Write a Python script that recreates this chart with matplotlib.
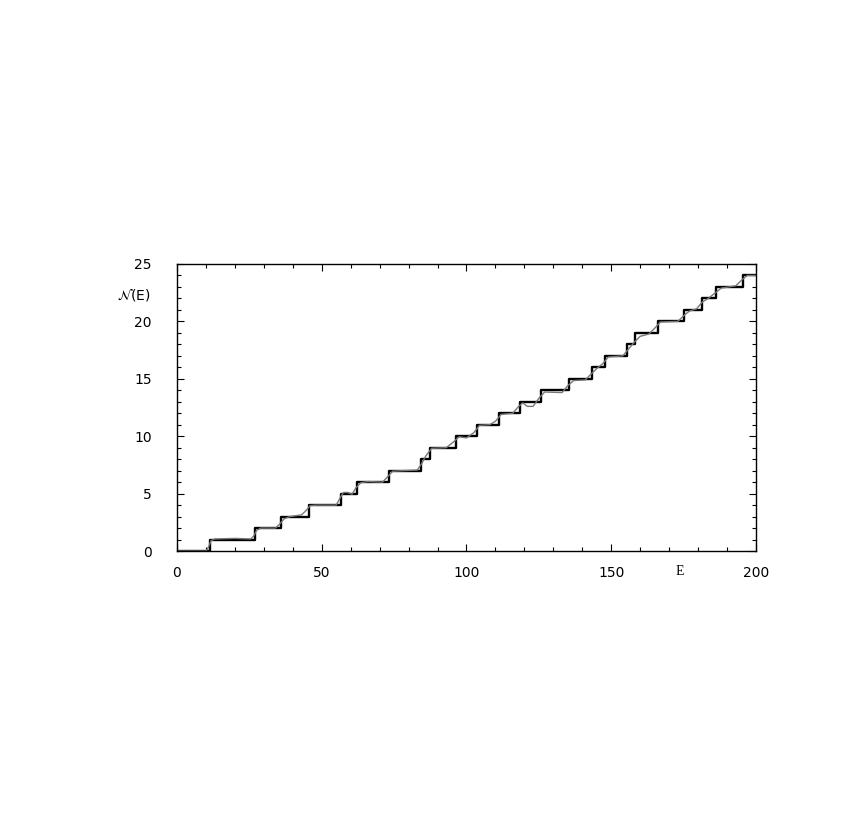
import matplotlib.pyplot as plt
from matplotlib.ticker import MultipleLocator

# eigenvalues E_n (positions of the steps)
levels_E = [11.4, 27.0, 36.0, 45.5, 56.7, 62.3, 73.2, 84.3, 87.4, 96.4,
            103.5, 111.1, 118.5, 125.7, 135.4, 143.4, 148.0, 155.6, 158.1,
            166.2, 175.1, 181.3, 186.1, 195.5]

# smooth (semiclassical) curve
smooth_E = [0, 10, 10.8, 11.8, 13, 20, 25.5, 26.5, 27.5, 29, 34, 35.3, 37, 39,
            43, 44.5, 46, 48, 55, 56.3, 57.5, 59, 60.5, 61.8, 63.5, 66, 71,
            72.5, 74.5, 78, 83, 84.5, 86, 88, 93, 95.5, 97.5, 100, 102.5,
            104.5, 108, 110, 112, 116, 118, 119.5, 121, 123, 125, 127, 133,
            135, 137, 141, 143, 145, 147, 149, 154, 156, 158, 160, 163, 165,
            167, 173, 175.5, 177, 179.5, 181.5, 183.5, 185.5, 188, 193,
            195.5, 197, 200]
smooth_N = [0, 0, 0.3, 0.9, 1.05, 1.1, 1.05, 1.3, 1.8, 2.0, 2.0, 2.3, 2.8, 3.0,
            3.15, 3.5, 3.95, 4.0, 4.0, 4.6, 5.1, 5.1, 4.95, 5.5, 5.95, 6.05,
            6.0, 6.4, 6.95, 7.0, 7.05, 7.6, 8.3, 8.95, 9.0, 9.5, 9.95, 9.85,
            10.3, 10.95, 11.0, 11.3, 11.9, 12.0, 12.6, 12.9, 12.6, 12.6, 13.3,
            13.85, 13.8, 14.4, 14.85, 14.9, 15.4, 15.9, 16.3, 16.9, 17.0, 17.6,
            18.2, 18.7, 18.9, 19.4, 19.95, 20.0, 20.6, 20.9, 21.1, 21.7, 22.0,
            22.4, 22.9, 23.1, 23.7, 24.0, 24.0]

x_ticks = [0, 50, 100, 150, 200]
y_ticks = [0, 5, 10, 15, 20, 25]


def main():
    fig = plt.figure(figsize=(8.5, 8.26), dpi=100, facecolor='white')
    ax = fig.add_axes([0.2082, 0.3329, 0.6812, 0.3475])

    # staircase N(E)
    stair_x = [0] + levels_E + [200]
    stair_y = [0] + list(range(1, len(levels_E) + 1)) + [len(levels_E)]
    ax.step(stair_x, stair_y, where='post', color='black', lw=1.7)

    ax.plot(smooth_E, smooth_N, color='#777777', lw=1.0)

    ax.set_xlim(0, 200)
    ax.set_ylim(0, 25)
    ax.set_xticks(x_ticks)
    ax.set_yticks(y_ticks)
    ax.xaxis.set_minor_locator(MultipleLocator(10))
    ax.yaxis.set_minor_locator(MultipleLocator(1))
    ax.tick_params(which='both', direction='in', top=True, right=True,
                   labelsize=10, width=0.8)
    ax.tick_params(which='major', length=5)
    ax.tick_params(which='minor', length=3)
    ax.tick_params(axis='y', pad=18)
    ax.tick_params(axis='x', pad=11)
    for s in ax.spines.values():
        s.set_linewidth(1.0)

    # axis labels placed like in the scan
    ax.text(-0.045, 0.895, r'$\mathcal{N}$(E)', transform=ax.transAxes,
            ha='right', va='center', fontsize=10)
    ax.text(0.868, -0.07, 'E', transform=ax.transAxes,
            ha='center', va='center', fontsize=10, family='Liberation Serif')

    fig.savefig('out.png', dpi=100, facecolor='white')


if __name__ == '__main__':
    main()
